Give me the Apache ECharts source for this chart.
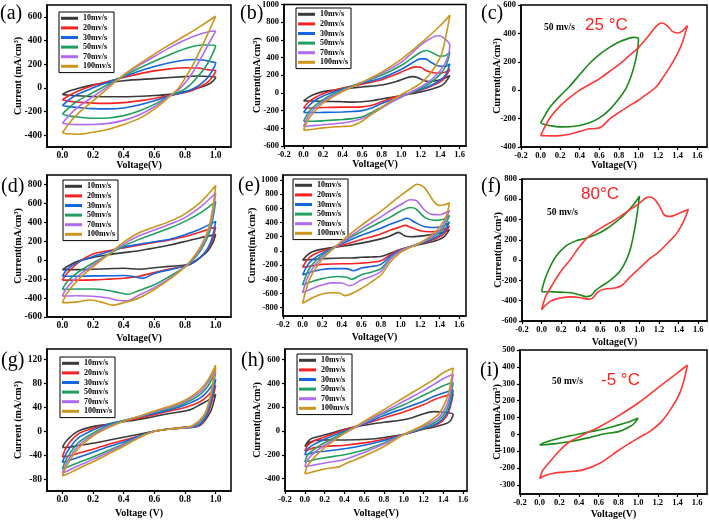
<!DOCTYPE html>
<html><head><meta charset="utf-8">
<script src="https://cdn.jsdelivr.net/npm/echarts@6/dist/echarts.min.js"></script>
<style>html,body{margin:0;padding:0;background:#fff}#c{width:709px;height:520px}</style>
</head><body><div id="c"></div>
<script>
// ---------- tick labels ----------
const X_TICKS_1 = [0, 0.2, 0.4, 0.6, 0.8, 1.0];
const X_TICKS_2 = [-0.2, 0, 0.2, 0.4, 0.6, 0.8, 1.0, 1.2, 1.4, 1.6];
const Y_TICKS_A = [-400, -200, 0, 200, 400, 600];
const Y_TICKS_B = [-600, -400, -200, 0, 200, 400, 600, 800, 1000];
const Y_TICKS_C = [-400, -200, 0, 200, 400, 600];
const Y_TICKS_D = [-600, -400, -200, 0, 200, 400, 600, 800];
const Y_TICKS_E = [-800, -600, -400, -200, 0, 200, 400, 600, 800, 1000];
const Y_TICKS_F = [-600, -400, -200, 0, 200, 400, 600, 800];
const Y_TICKS_G = [-80, -40, 0, 40, 80, 120];
const Y_TICKS_H = [-400, -200, 0, 200, 400, 600];
const Y_TICKS_I = [-300, -200, -100, 0, 100, 200, 300, 400, 500];
const RATES = ['10mv/s', '20mv/s', '30mv/s', '50mv/s', '70mv/s', '100mv/s'];

// ---------- panel (a) ----------
const a10 = [[0,-55],[0.05,-25],[0.1,-5],[0.2,25],[0.4,60],[0.6,78],[0.8,95],[0.88,100],[0.95,96],[1.0,88],[0.98,55],[0.95,28],[0.9,5],[0.85,-15],[0.8,-32],[0.7,-55],[0.6,-65],[0.4,-75],[0.2,-73],[0.1,-67],[0.03,-60],[0,-55]];
const a20 = [[0,-100],[0.05,-60],[0.1,-28],[0.2,20],[0.3,55],[0.4,88],[0.5,118],[0.6,143],[0.7,160],[0.8,170],[0.88,168],[0.95,152],[1.0,145],[0.98,95],[0.95,50],[0.9,10],[0.85,-20],[0.8,-40],[0.72,-60],[0.6,-90],[0.5,-110],[0.4,-125],[0.3,-131],[0.2,-129],[0.1,-121],[0.03,-110],[0,-100]];
const a30 = [[0,-150],[0.05,-95],[0.1,-55],[0.2,0],[0.3,50],[0.4,95],[0.5,140],[0.6,180],[0.7,212],[0.8,235],[0.86,240],[0.92,235],[0.97,220],[1.0,210],[0.98,150],[0.95,90],[0.9,30],[0.85,-10],[0.8,-35],[0.72,-60],[0.6,-110],[0.5,-145],[0.4,-170],[0.3,-178],[0.2,-176],[0.1,-166],[0.03,-157],[0,-150]];
const a50 = [[0,-220],[0.05,-160],[0.1,-110],[0.2,-40],[0.3,30],[0.4,100],[0.5,165],[0.6,225],[0.7,280],[0.8,330],[0.88,358],[0.94,362],[1.0,358],[0.97,260],[0.93,170],[0.88,90],[0.83,20],[0.78,-25],[0.72,-55],[0.6,-140],[0.5,-195],[0.4,-235],[0.3,-255],[0.2,-257],[0.1,-247],[0.03,-235],[0,-220]];
const a70 = [[0,-300],[0.05,-225],[0.1,-165],[0.2,-75],[0.3,15],[0.4,105],[0.5,190],[0.6,265],[0.7,340],[0.8,405],[0.9,455],[0.97,478],[1.0,480],[0.95,360],[0.9,240],[0.85,130],[0.8,40],[0.76,-15],[0.72,-50],[0.6,-160],[0.5,-230],[0.4,-275],[0.3,-300],[0.2,-310],[0.1,-311],[0.03,-306],[0,-300]];
const a100 = [[0,-380],[0.05,-290],[0.1,-220],[0.2,-110],[0.3,0],[0.4,110],[0.5,200],[0.6,285],[0.7,365],[0.8,440],[0.9,520],[1.0,605],[0.95,460],[0.9,320],[0.85,190],[0.8,80],[0.76,0],[0.72,-50],[0.65,-130],[0.6,-180],[0.5,-260],[0.4,-310],[0.3,-350],[0.2,-375],[0.1,-392],[0.03,-388],[0,-380]];

// ---------- panel (b) ----------
const b10 = [[0,-90],[0.05,-50],[0.1,-20],[0.2,15],[0.4,45],[0.6,68],[0.8,90],[0.95,130],[1.05,170],[1.12,185],[1.18,170],[1.23,140],[1.3,130],[1.4,148],[1.5,195],[1.45,115],[1.4,75],[1.3,40],[1.2,12],[1.1,-10],[1.0,-30],[0.9,-50],[0.8,-68],[0.7,-88],[0.6,-100],[0.5,-104],[0.4,-100],[0.3,-96],[0.2,-95],[0.1,-92],[0,-90]];
const b20 = [[0,-170],[0.05,-105],[0.1,-65],[0.2,-10],[0.4,55],[0.6,100],[0.8,150],[0.95,210],[1.05,260],[1.15,295],[1.2,290],[1.26,250],[1.35,225],[1.45,235],[1.5,270],[1.45,175],[1.4,125],[1.3,72],[1.2,32],[1.1,0],[1.0,-30],[0.9,-60],[0.8,-100],[0.7,-140],[0.6,-158],[0.5,-160],[0.4,-160],[0.2,-165],[0.1,-170],[0,-170]];
const b30 = [[0,-220],[0.05,-150],[0.1,-100],[0.2,-35],[0.4,45],[0.6,110],[0.8,170],[1.0,265],[1.1,330],[1.2,385],[1.25,385],[1.3,350],[1.38,305],[1.45,300],[1.5,330],[1.46,210],[1.4,145],[1.3,82],[1.2,40],[1.1,2],[1.0,-40],[0.9,-80],[0.8,-120],[0.7,-170],[0.6,-200],[0.5,-210],[0.4,-215],[0.2,-220],[0.1,-222],[0,-220]];
const b50 = [[0,-320],[0.05,-220],[0.1,-160],[0.2,-75],[0.4,35],[0.6,120],[0.8,200],[1.0,310],[1.1,385],[1.2,460],[1.26,480],[1.32,455],[1.4,415],[1.45,420],[1.5,460],[1.46,310],[1.4,210],[1.3,115],[1.2,52],[1.1,3],[1.0,-50],[0.9,-100],[0.8,-160],[0.7,-220],[0.6,-270],[0.5,-290],[0.4,-300],[0.2,-315],[0.1,-320],[0,-320]];
const b70 = [[0,-380],[0.05,-260],[0.1,-190],[0.2,-95],[0.4,25],[0.6,120],[0.8,220],[1.0,345],[1.1,440],[1.2,540],[1.3,615],[1.38,650],[1.44,620],[1.5,540],[1.47,380],[1.4,250],[1.3,140],[1.2,68],[1.1,10],[1.0,-45],[0.9,-105],[0.8,-170],[0.7,-240],[0.6,-290],[0.5,-320],[0.4,-340],[0.2,-360],[0.1,-370],[0,-380]];
const b100 = [[0,-420],[0.05,-300],[0.1,-225],[0.2,-115],[0.4,15],[0.6,120],[0.8,235],[1.0,380],[1.2,560],[1.4,760],[1.5,880],[1.47,700],[1.43,500],[1.4,400],[1.3,220],[1.2,110],[1.1,40],[1.0,-20],[0.9,-90],[0.8,-160],[0.7,-240],[0.6,-320],[0.5,-370],[0.4,-380],[0.3,-385],[0.2,-395],[0.1,-410],[0,-420]];

// ---------- panel (c) 25 °C ----------
const cGreen = [[0,-230],[0.05,-170],[0.1,-115],[0.2,-40],[0.3,30],[0.4,110],[0.5,188],[0.6,250],[0.7,300],[0.8,340],[0.9,365],[0.95,372],[1.0,362],[0.99,280],[0.96,180],[0.92,90],[0.87,10],[0.8,-60],[0.7,-140],[0.6,-195],[0.5,-230],[0.4,-248],[0.3,-257],[0.2,-258],[0.1,-250],[0.03,-240],[0,-230]];
const cRed = [[0,-320],[0.05,-250],[0.1,-190],[0.2,-110],[0.3,-50],[0.4,0],[0.5,40],[0.6,80],[0.7,130],[0.8,180],[0.9,240],[1.0,300],[1.1,380],[1.18,450],[1.24,473],[1.3,450],[1.35,412],[1.4,403],[1.45,418],[1.5,455],[1.45,340],[1.4,260],[1.32,163],[1.25,90],[1.18,22],[1.1,-20],[1.0,-71],[0.9,-112],[0.81,-153],[0.71,-200],[0.62,-259],[0.56,-270],[0.5,-272],[0.45,-280],[0.4,-290],[0.3,-310],[0.2,-320],[0.1,-322],[0.03,-320],[0,-320]];

// ---------- panel (d) ----------
const d10 = [[0,-100],[0.05,-50],[0.1,-12],[0.2,30],[0.3,58],[0.4,80],[0.5,100],[0.6,128],[0.7,160],[0.8,198],[0.9,238],[1.0,270],[0.98,180],[0.95,100],[0.9,30],[0.85,-20],[0.8,-50],[0.7,-65],[0.6,-80],[0.5,-95],[0.4,-85],[0.3,-90],[0.2,-95],[0.1,-100],[0,-100]];
const d20 = [[0,-210],[0.03,-140],[0.1,-30],[0.2,65],[0.3,100],[0.4,130],[0.5,158],[0.6,188],[0.7,215],[0.8,250],[0.9,298],[1.0,350],[0.98,220],[0.95,120],[0.9,30],[0.85,-30],[0.8,-62],[0.7,-92],[0.6,-130],[0.5,-170],[0.4,-190],[0.3,-200],[0.2,-208],[0.1,-210],[0,-210]];
const d30 = [[0,-170],[0.03,-100],[0.1,-20],[0.2,40],[0.3,90],[0.4,138],[0.5,168],[0.6,195],[0.7,222],[0.8,270],[0.9,330],[1.0,410],[0.98,250],[0.95,130],[0.9,30],[0.85,-30],[0.8,-62],[0.7,-100],[0.6,-140],[0.52,-192],[0.46,-172],[0.4,-162],[0.3,-165],[0.2,-166],[0.1,-170],[0,-170]];
const d50 = [[0,-310],[0.03,-230],[0.1,-130],[0.2,-30],[0.3,60],[0.4,150],[0.5,220],[0.6,280],[0.7,340],[0.8,410],[0.9,500],[1.0,620],[0.98,420],[0.95,250],[0.9,100],[0.85,0],[0.8,-70],[0.7,-170],[0.6,-260],[0.5,-320],[0.43,-360],[0.36,-340],[0.3,-320],[0.2,-305],[0.1,-305],[0,-310]];
const d70 = [[0,-380],[0.03,-290],[0.1,-170],[0.2,-50],[0.3,60],[0.4,170],[0.5,258],[0.6,318],[0.7,380],[0.8,450],[0.9,560],[1.0,710],[0.98,480],[0.95,290],[0.9,120],[0.85,10],[0.8,-70],[0.7,-190],[0.6,-290],[0.5,-370],[0.42,-430],[0.35,-420],[0.3,-400],[0.2,-380],[0.1,-375],[0,-380]];
const d100 = [[0,-450],[0.03,-350],[0.1,-210],[0.2,-70],[0.3,60],[0.4,190],[0.5,290],[0.6,350],[0.7,410],[0.8,490],[0.9,610],[1.0,790],[0.98,540],[0.95,320],[0.9,140],[0.85,20],[0.8,-70],[0.7,-200],[0.6,-310],[0.5,-400],[0.4,-450],[0.33,-475],[0.25,-440],[0.18,-420],[0.1,-440],[0,-450]];

// ---------- panel (e) ----------
const e10 = [[0,-130],[0.05,-55],[0.1,-10],[0.2,25],[0.4,65],[0.6,110],[0.8,170],[0.9,215],[0.98,262],[1.04,215],[1.1,200],[1.2,208],[1.3,228],[1.4,250],[1.5,300],[1.45,205],[1.4,165],[1.3,122],[1.2,90],[1.1,60],[1.0,20],[0.9,-30],[0.8,-78],[0.7,-85],[0.6,-90],[0.5,-100],[0.4,-100],[0.2,-110],[0.1,-120],[0,-130]];
const e20 = [[0,-230],[0.05,-120],[0.1,-60],[0.2,0],[0.4,80],[0.6,160],[0.8,240],[0.9,295],[1.0,340],[1.05,360],[1.1,335],[1.2,285],[1.3,270],[1.4,280],[1.5,350],[1.45,250],[1.4,200],[1.3,142],[1.2,100],[1.1,60],[1.0,20],[0.9,-50],[0.8,-140],[0.7,-160],[0.6,-172],[0.5,-180],[0.4,-180],[0.2,-190],[0.1,-210],[0,-230]];
const e30 = [[0,-340],[0.05,-200],[0.1,-125],[0.2,-35],[0.4,100],[0.6,220],[0.8,320],[0.9,380],[1.0,430],[1.07,460],[1.15,400],[1.25,340],[1.35,330],[1.45,350],[1.5,410],[1.45,280],[1.4,222],[1.3,152],[1.2,100],[1.1,60],[1.0,10],[0.9,-70],[0.8,-190],[0.7,-220],[0.6,-240],[0.52,-280],[0.45,-250],[0.3,-250],[0.2,-262],[0.1,-290],[0,-340]];
const e50 = [[0,-480],[0.05,-300],[0.1,-190],[0.2,-60],[0.4,120],[0.6,270],[0.8,410],[0.9,480],[1.0,560],[1.1,612],[1.16,590],[1.25,470],[1.35,430],[1.45,450],[1.5,500],[1.45,350],[1.4,262],[1.3,172],[1.2,110],[1.1,60],[1.0,0],[0.9,-100],[0.8,-250],[0.7,-300],[0.6,-335],[0.5,-400],[0.45,-372],[0.35,-360],[0.2,-390],[0.1,-430],[0,-480]];
const e70 = [[0,-590],[0.05,-380],[0.1,-250],[0.2,-90],[0.4,120],[0.6,310],[0.8,480],[0.9,570],[1.0,650],[1.1,722],[1.16,710],[1.25,570],[1.32,515],[1.4,510],[1.5,570],[1.45,400],[1.4,292],[1.3,182],[1.2,112],[1.1,60],[1.0,0],[0.9,-110],[0.8,-290],[0.7,-360],[0.6,-410],[0.48,-490],[0.4,-452],[0.3,-450],[0.2,-480],[0.1,-530],[0,-590]];
const e100 = [[0,-740],[0.05,-480],[0.1,-320],[0.2,-120],[0.4,140],[0.6,360],[0.8,560],[0.9,670],[1.0,780],[1.1,880],[1.17,940],[1.24,900],[1.3,780],[1.35,680],[1.4,640],[1.45,650],[1.5,680],[1.47,500],[1.4,335],[1.3,205],[1.2,112],[1.1,50],[1.0,-20],[0.9,-150],[0.8,-340],[0.7,-440],[0.6,-530],[0.43,-630],[0.38,-592],[0.3,-590],[0.2,-607],[0.1,-660],[0,-740]];

// ---------- panel (f) 80 °C ----------
const fGreen = [[0,-310],[0.03,-200],[0.08,-80],[0.15,40],[0.25,140],[0.35,190],[0.45,215],[0.55,250],[0.65,300],[0.75,370],[0.85,450],[0.95,560],[1.0,630],[0.98,480],[0.95,300],[0.91,120],[0.87,10],[0.8,-110],[0.7,-200],[0.6,-264],[0.55,-300],[0.51,-346],[0.45,-360],[0.4,-345],[0.3,-322],[0.2,-315],[0.1,-312],[0,-310]];
const fRed = [[0,-490],[0.04,-362],[0.1,-260],[0.16,-164],[0.22,-80],[0.29,0],[0.37,110],[0.46,215],[0.55,280],[0.63,330],[0.72,380],[0.8,429],[0.9,495],[1.0,562],[1.06,610],[1.1,622],[1.15,605],[1.2,540],[1.26,440],[1.32,432],[1.4,460],[1.5,502],[1.45,380],[1.38,264],[1.3,180],[1.18,66],[1.1,10],[1.0,-80],[0.9,-170],[0.82,-250],[0.75,-275],[0.65,-285],[0.58,-310],[0.52,-375],[0.48,-385],[0.4,-370],[0.3,-362],[0.2,-372],[0.1,-400],[0.04,-445],[0,-490]];

// ---------- panel (g) ----------
const g10 = [[0,-27],[0.03,-15],[0.1,0],[0.2,8],[0.3,12],[0.4,16],[0.5,20],[0.6,25],[0.7,30],[0.8,34],[0.85,38],[0.9,45],[0.95,52],[1.0,62],[0.97,35],[0.93,18],[0.9,10],[0.85,8],[0.8,7],[0.7,4],[0.6,0],[0.5,-5],[0.4,-10],[0.3,-15],[0.2,-20],[0.1,-24],[0.03,-27],[0,-27]];
const g20 = [[0,-43],[0.03,-25],[0.1,-5],[0.2,5],[0.3,12],[0.4,17],[0.5,22],[0.6,28],[0.7,34],[0.8,40],[0.9,50],[0.95,60],[1.0,77],[0.97,45],[0.93,20],[0.88,8],[0.8,6],[0.7,4],[0.6,0],[0.5,-8],[0.4,-15],[0.3,-22],[0.2,-30],[0.1,-37],[0.03,-42],[0,-43]];
const g30 = [[0,-52],[0.03,-35],[0.1,-12],[0.2,2],[0.3,12],[0.4,18],[0.5,24],[0.6,30],[0.7,36],[0.8,44],[0.9,56],[0.95,68],[1.0,87],[0.97,50],[0.93,22],[0.87,8],[0.8,6],[0.7,4],[0.6,0],[0.5,-8],[0.4,-18],[0.3,-26],[0.2,-35],[0.1,-44],[0.03,-50],[0,-52]];
const g50 = [[0,-63],[0.03,-45],[0.1,-20],[0.2,-3],[0.3,10],[0.4,18],[0.5,25],[0.6,32],[0.7,38],[0.8,47],[0.9,62],[0.95,76],[1.0,100],[0.97,58],[0.93,26],[0.85,8],[0.75,5],[0.7,4],[0.6,0],[0.5,-9],[0.4,-21],[0.3,-32],[0.2,-43],[0.1,-53],[0.03,-60],[0,-63]];
const g70 = [[0,-70],[0.03,-52],[0.1,-25],[0.2,-6],[0.3,8],[0.4,17],[0.5,25],[0.6,33],[0.7,40],[0.8,50],[0.9,66],[0.95,82],[1.0,106],[0.97,62],[0.93,28],[0.85,9],[0.75,5],[0.7,4],[0.6,0],[0.5,-10],[0.4,-23],[0.3,-35],[0.2,-47],[0.1,-58],[0.03,-67],[0,-70]];
const g100 = [[0,-75],[0.03,-57],[0.1,-30],[0.2,-8],[0.3,6],[0.4,17],[0.5,25],[0.6,34],[0.7,42],[0.8,52],[0.9,70],[0.95,86],[1.0,111],[0.97,66],[0.93,30],[0.85,10],[0.75,5],[0.7,4],[0.6,0],[0.5,-11],[0.4,-25],[0.3,-38],[0.2,-51],[0.1,-63],[0.03,-72],[0,-75]];

// ---------- panel (h) ----------
const h10 = [[0,-130],[0.03,-90],[0.07,-62],[0.15,-45],[0.3,-10],[0.4,15],[0.6,48],[0.8,73],[1.0,95],[1.1,115],[1.2,145],[1.3,163],[1.4,158],[1.5,140],[1.48,95],[1.45,70],[1.4,55],[1.3,32],[1.2,15],[1.0,-28],[0.8,-55],[0.64,-70],[0.4,-76],[0.15,-76],[0.05,-95],[0,-130]];
const h20 = [[0,-170],[0.03,-120],[0.1,-80],[0.2,-50],[0.4,10],[0.6,60],[0.8,110],[1.0,160],[1.2,220],[1.3,260],[1.4,290],[1.5,310],[1.47,200],[1.43,120],[1.35,60],[1.2,20],[1.0,-30],[0.8,-70],[0.6,-100],[0.4,-120],[0.2,-130],[0.1,-140],[0.03,-160],[0,-170]];
const h30 = [[0,-200],[0.03,-150],[0.1,-110],[0.2,-70],[0.4,0],[0.6,60],[0.8,130],[1.0,190],[1.2,250],[1.3,290],[1.4,320],[1.5,345],[1.47,220],[1.43,140],[1.35,70],[1.2,20],[1.0,-30],[0.8,-80],[0.6,-120],[0.4,-150],[0.2,-170],[0.1,-180],[0.03,-195],[0,-200]];
const h50 = [[0,-260],[0.03,-200],[0.1,-150],[0.2,-100],[0.4,-10],[0.6,70],[0.8,150],[1.0,220],[1.2,300],[1.3,340],[1.4,380],[1.5,410],[1.47,270],[1.43,170],[1.35,90],[1.2,30],[1.0,-30],[0.8,-100],[0.6,-160],[0.4,-200],[0.2,-225],[0.1,-240],[0.03,-255],[0,-260]];
const h70 = [[0,-300],[0.03,-240],[0.1,-180],[0.2,-120],[0.4,-20],[0.6,70],[0.8,160],[1.0,250],[1.2,340],[1.3,390],[1.4,440],[1.5,480],[1.47,320],[1.43,210],[1.35,110],[1.2,40],[1.0,-30],[0.8,-110],[0.6,-180],[0.4,-240],[0.2,-270],[0.1,-285],[0.03,-295],[0,-300]];
const h100 = [[0,-360],[0.03,-290],[0.1,-220],[0.2,-140],[0.4,-20],[0.6,80],[0.8,180],[1.0,280],[1.2,380],[1.3,430],[1.4,490],[1.5,530],[1.47,380],[1.43,260],[1.35,140],[1.2,50],[1.0,-30],[0.8,-130],[0.6,-210],[0.4,-280],[0.35,-300],[0.2,-320],[0.1,-340],[0.03,-355],[0,-360]];

// ---------- panel (i) -5 °C ----------
const iGreen = [[0,-63],[0.05,-48],[0.14,-32],[0.31,-8],[0.48,12],[0.65,32],[0.81,58],[0.92,77],[1.0,97],[0.96,65],[0.92,48],[0.81,18],[0.65,2],[0.48,-22],[0.31,-42],[0.14,-56],[0.05,-61],[0,-63]];
const iRed = [[0,-262],[0.03,-215],[0.09,-171],[0.21,-91],[0.3,-45],[0.41,-12],[0.51,18],[0.6,42],[0.8,110],[1.0,186],[1.2,276],[1.4,365],[1.5,410],[1.47,330],[1.42,240],[1.35,167],[1.24,77],[1.12,18],[1.0,-22],[0.81,-91],[0.61,-171],[0.44,-210],[0.31,-220],[0.14,-230],[0.05,-245],[0,-262]];

// ---------- layout / styling ----------
const SERIF = "Liberation Serif";
const RATE_COLORS = ['#3a3a3a', '#f82222', '#1565e0', '#1fa060', '#b06cf0', '#cc951c'];
const PAIR_COLORS = ['#1a8a1a', '#ff3838'];

const panels = [
  {tag:'(a)', box:[47,5,231,147], x:[-0.1,1.1], y:[-500,700], xt:X_TICKS_1, yt:Y_TICKS_A, yl:'Current (mA/cm³)', xl:'Voltage(V)', fs:9.5, yd:29, xd:18, curves:[a10,a20,a30,a50,a70,a100], legend:[59,12], tagPos:[0,4]},
  {tag:'(b)', box:[284,4,466,146], x:[-0.2,1.665], y:[-600,1000], xt:X_TICKS_2, yt:Y_TICKS_B, yl:'Current(mA/cm³)', xl:'Voltage(V)', fs:8.5, yd:27, xd:18, curves:[b10,b20,b30,b50,b70,b100], legend:[296,8], tagPos:[240,4]},
  {tag:'(c)', box:[521,5,707,147], x:[-0.2,1.7], y:[-400,600], xt:X_TICKS_2, yt:Y_TICKS_C, yl:'Current(mA/cm³)', xl:'Voltage(V)', fs:8.5, yd:24, xd:18, pair:[cGreen,cRed], tagPos:[481,4]},
  {tag:'(d)', box:[47,175,231,317], x:[-0.1,1.1], y:[-600,900], xt:X_TICKS_1, yt:Y_TICKS_D, yl:'Current(mA/cm³)', xl:'Voltage(V)', fs:9.5, yd:29, xd:21, curves:[d10,d20,d30,d50,d70,d100], legend:[63,180], tagPos:[1,177]},
  {tag:'(e)', box:[283,175,466,316], x:[-0.2,1.669], y:[-917,1070], xt:X_TICKS_2, yt:Y_TICKS_E, yl:'Current(mA/cm³)', xl:'Voltage(V)', fs:8.5, yd:31, xd:21, curves:[e10,e20,e30,e50,e70,e100], legend:[293,179], tagPos:[238,176]},
  {tag:'(f)', box:[522,179,707,321], x:[-0.2,1.69], y:[-600,800], xt:X_TICKS_2, yt:Y_TICKS_F, yl:'Current(mA/cm³)', xl:'Voltage(V)', fs:8.5, yd:24, xd:21, pair:[fGreen,fRed], tagPos:[481,177]},
  {tag:'(g)', box:[47,349,231,491], x:[-0.1,1.1], y:[-100,138], xt:X_TICKS_1, yt:Y_TICKS_G, yl:'Current (mA/cm³)', xl:'Voltage (V)', fs:9.5, yd:29, xd:22, curves:[g10,g20,g30,g50,g70,g100], legend:[60,357], tagPos:[1,351]},
  {tag:'(h)', box:[285,349,467,491], x:[-0.2,1.64], y:[-505,690], xt:X_TICKS_2, yt:Y_TICKS_H, yl:'Current(mA/cm³)', xl:'Voltage(V)', fs:8.5, yd:28, xd:22, curves:[h10,h20,h30,h50,h70,h100], legend:[297,354], tagPos:[241,351]},
  {tag:'(i)', box:[520,350,707,494], x:[-0.2,1.7], y:[-353,500], xt:X_TICKS_2, yt:Y_TICKS_I, yl:'Current(mA/cm³)', xl:'Voltage(V)', fs:8.5, yd:23, xd:20, pair:[iGreen,iRed], tagPos:[480,361]}
];

const grids = [], xAxes = [], yAxes = [], series = [], legends = [], graphics = [];
panels.forEach((p, i) => {
  const [l, t, r, b] = p.box;
  grids.push({left:l, top:t, width:r-l, height:b-t, show:true, borderColor:'#000', borderWidth:1.5, backgroundColor:'rgba(0,0,0,0)', containLabel:false});
  const nameStyle = {fontFamily:SERIF, fontWeight:'bold', fontSize:10, color:'#000'};
  const lblStyle = {fontFamily:SERIF, fontWeight:'bold', fontSize:p.fs, color:'#000'};
  xAxes.push({gridIndex:i, type:'value', min:p.x[0], max:p.x[1],
    axisLine:{show:true, onZero:false, lineStyle:{color:'#000', width:1.5}},
    axisTick:{show:true, customValues:p.xt, length:3, lineStyle:{color:'#000', width:1.2}},
    axisLabel:Object.assign({customValues:p.xt, margin:4, formatter:v => (Math.abs(v) < 1e-9 ? 0 : v).toFixed(1)}, lblStyle),
    splitLine:{show:false}, name:p.xl, nameLocation:'middle', nameGap:p.xd - 5, nameMoveOverlap:false, nameTextStyle:nameStyle});
  yAxes.push({gridIndex:i, type:'value', min:p.y[0], max:p.y[1],
    axisLine:{show:true, onZero:false, lineStyle:{color:'#000', width:1.5}},
    axisTick:{show:true, customValues:p.yt, length:3, lineStyle:{color:'#000', width:1.2}},
    axisLabel:Object.assign({customValues:p.yt, margin:5, formatter:v => String(Math.round(v))}, lblStyle),
    splitLine:{show:false}, name:p.yl, nameLocation:'middle', nameGap:p.yd - 5, nameMoveOverlap:false, nameTextStyle:nameStyle});
  if (p.curves) {
    p.curves.forEach((d, k) => {
      series.push({type:'line', name:RATES[k], xAxisIndex:i, yAxisIndex:i, data:d, smooth:0.3, symbol:'none', showSymbol:false,
        lineStyle:{width:1.6, color:RATE_COLORS[k]}, itemStyle:{color:RATE_COLORS[k]}, z:2+k, silent:true});
    });
    legends.push({data:RATES, left:p.legend[0], top:p.legend[1], orient:'vertical', icon:'rect', itemWidth:17, itemHeight:3, itemGap:1,
      borderColor:'#000', borderWidth:1, padding:[2,3,2,2], selectedMode:false,
      textStyle:{fontFamily:SERIF, fontWeight:'bold', fontSize:8, color:'#000', lineHeight:8.6}});
  } else {
    p.pair.forEach((d, k) => {
      series.push({type:'line', name:p.tag + k, xAxisIndex:i, yAxisIndex:i, data:d, smooth:0.3, symbol:'none', showSymbol:false,
        lineStyle:{width:1.6, color:PAIR_COLORS[k]}, itemStyle:{color:PAIR_COLORS[k]}, z:2+k, silent:true});
    });
  }
  graphics.push({type:'text', left:p.tagPos[0], top:p.tagPos[1], style:{text:p.tag, fontFamily:SERIF, fontSize:20, fill:'#000'}});
});

const NOTES = [
  {t:'50 mv/s', x:544, y:23, serif:true},
  {t:'25 °C', x:585, y:17, serif:false},
  {t:'80°C', x:581, y:186, serif:false},
  {t:'50 mv/s', x:547, y:208, serif:true},
  {t:'50 mv/s', x:552, y:377, serif:true},
  {t:'-5 °C', x:601, y:372, serif:false}
];
NOTES.forEach(n => {
  graphics.push({type:'text', left:n.x, top:n.y, z:10, style: n.serif
    ? {text:n.t, fontFamily:SERIF, fontWeight:'bold', fontSize:9.5, fill:'#000'}
    : {text:n.t, fontFamily:'Liberation Sans', fontSize:17, fill:'#ff2020'}});
});

const chart = echarts.init(document.getElementById('c'), null, {renderer:'canvas'});
chart.setOption({animation:false, backgroundColor:'#fff', grid:grids, xAxis:xAxes, yAxis:yAxes, series:series, legend:legends, graphic:graphics});
</script></body></html>
